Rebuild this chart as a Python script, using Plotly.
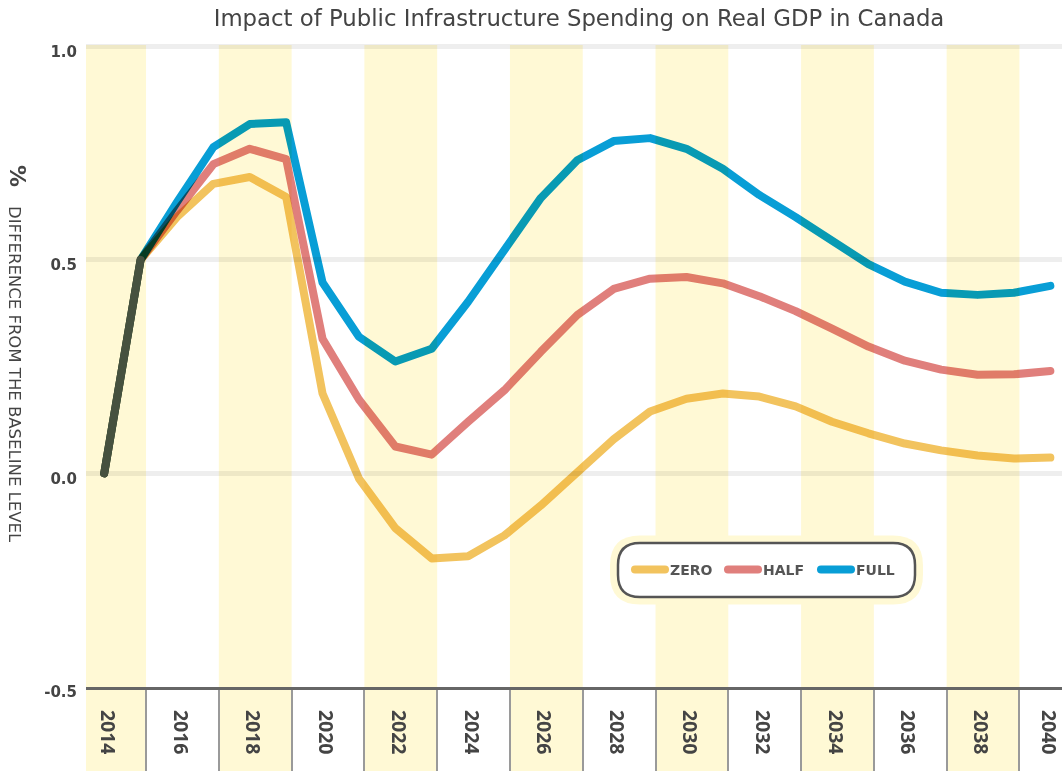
import plotly.graph_objects as go

# Real GDP impact, % difference from baseline
years = list(range(2014, 2041))
zero = [0, 0.5, 0.60, 0.678, 0.694, 0.647, 0.187, -0.012, -0.128, -0.199, -0.194,
        -0.145, -0.075, 0.005, 0.08, 0.145, 0.175, 0.187, 0.18, 0.157, 0.121,
        0.094, 0.07, 0.054, 0.042, 0.035, 0.037]
half = [0, 0.5, 0.615, 0.724, 0.76, 0.736, 0.315, 0.173, 0.063, 0.044, 0.121,
        0.195, 0.285, 0.371, 0.432, 0.456, 0.46, 0.445, 0.415, 0.38, 0.339,
        0.297, 0.264, 0.243, 0.231, 0.232, 0.24]
full = [0, 0.5, 0.635, 0.764, 0.818, 0.822, 0.447, 0.32, 0.262, 0.292, 0.402,
        0.52, 0.645, 0.733, 0.778, 0.785, 0.76, 0.713, 0.652, 0.6, 0.547,
        0.49, 0.449, 0.423, 0.418, 0.423, 0.439]

series_names = ["ZERO", "HALF", "FULL"]
series_values = [zero, half, full]
series_colors = ["#F2C35E", "#E07F7C", "#089ED6"]
SHARED_COLOR = "#46513F"

tick_years = list(range(2014, 2041, 2))
shaded_years = tick_years[::2]
y_ticks = [-0.5, 0.0, 0.5, 1.0]

WIDE = "DejaVu Sans"
OFF = 0.15  # columns sit a bit right of the data points
LABEL_OFF = 0.08
X_RANGE = [2013.5, 2040.32]
BAND = "#FFF9D5"
TEXT = "#444444"


def rounded_rect(w, h, r):
    x0, x1, y0, y1 = -w / 2, w / 2, -h / 2, h / 2
    return (f"M{x0 + r},{y0} L{x1 - r},{y0} Q{x1},{y0} {x1},{y0 + r} "
            f"L{x1},{y1 - r} Q{x1},{y1} {x1 - r},{y1} L{x0 + r},{y1} "
            f"Q{x0},{y1} {x0},{y1 - r} L{x0},{y0 + r} Q{x0},{y0} {x0 + r},{y0} Z")


fig = go.Figure()

for name, vals, col in zip(series_names, series_values, series_colors):
    fig.add_trace(go.Scatter(
        x=years, y=vals, name=name, mode="lines",
        line=dict(color=col, width=8),
        hovertemplate="%{x}: %{y:.2f}<extra>" + name + "</extra>",
    ))

# stretch where all three scenarios coincide is drawn in one dark stroke
shared = [(x, a) for x, a, b, c in zip(years, zero, half, full) if a == b == c]
fig.add_trace(go.Scatter(
    x=[p[0] for p in shared], y=[p[1] for p in shared], mode="lines",
    line=dict(color=SHARED_COLOR, width=8), showlegend=False, hoverinfo="skip",
))

shapes = []
# alternating yellow columns, running down through the tick labels
for yr in shaded_years:
    x0 = max(yr - 1 + OFF, X_RANGE[0])
    x1 = min(yr + 1 + OFF, X_RANGE[1])
    shapes.append(dict(type="rect", xref="x", yref="paper", x0=x0, x1=x1,
                       y0=-0.131, y1=1, fillcolor=BAND, line_width=0, layer="below"))

# legend frame: yellow halo + rounded white box
lx, ly = (766.5 - 86) / 976, (687 - 570) / 642
shapes.append(dict(type="path", xref="paper", yref="paper", xsizemode="pixel", ysizemode="pixel",
                   xanchor=lx, yanchor=ly, path=rounded_rect(313, 69, 30),
                   fillcolor=BAND, line_width=0, layer="above"))
shapes.append(dict(type="path", xref="paper", yref="paper", xsizemode="pixel", ysizemode="pixel",
                   xanchor=lx, yanchor=ly, path=rounded_rect(297, 54, 22),
                   fillcolor="white", line=dict(color="#555555", width=2.5), layer="above"))

fig.update_layout(
    width=1062, height=771,
    margin=dict(l=86, r=0, t=45, b=84, autoexpand=False),
    paper_bgcolor="white", plot_bgcolor="white",
    font=dict(family="Open Sans", color=TEXT),
    title=dict(text="Impact of Public Infrastructure Spending on Real GDP in Canada",
               x=(579 - 86) / 976, xref="paper", xanchor="center",
               y=1 - 18 / 771, yanchor="middle",
               font=dict(family=WIDE, size=22.8, color=TEXT)),
    shapes=shapes,
    showlegend=True,
    legend=dict(orientation="h", x=lx + 3 / 976, y=ly, xanchor="center", yanchor="middle",
                bgcolor="rgba(0,0,0,0)",
                font=dict(family=WIDE, size=14, color="#555555", weight="bold"),
                itemwidth=30, entrywidthmode="pixels", entrywidth=48),
    annotations=[
        dict(text="<b>%</b>", xref="paper", yref="paper", x=(17 - 86) / 976, y=(687 - 176) / 642,
             xanchor="center", yanchor="middle", textangle=90, showarrow=False,
             font=dict(family=WIDE, size=22, color=TEXT)),
        dict(text="DIFFERENCE FROM THE BASELINE LEVEL", xref="paper", yref="paper",
             x=(15 - 86) / 976, y=(687 - 374) / 642, xanchor="center", yanchor="middle",
             textangle=90, showarrow=False, font=dict(family=WIDE, size=16.5, color=TEXT)),
    ],
)

# keep the last year label inside the page edge
label_pos = [min(y + LABEL_OFF, X_RANGE[1] - 0.38) for y in tick_years]

fig.update_xaxes(
    range=X_RANGE, tickmode="array", automargin=False,
    tickvals=label_pos, ticktext=[str(y) for y in tick_years],
    tickangle=90, ticks="", ticklabelstandoff=16, ticklabeloverflow="allow",
    tickfont=dict(family="Open Sans", size=19.5, color=TEXT, weight="bold"),
    showgrid=False, zeroline=False,
    showline=True, linecolor="#666666", linewidth=3,
    minor=dict(tickmode="array", tickvals=[y + 1 + OFF for y in tick_years],
               ticks="outside", ticklen=84, tickwidth=2, tickcolor="#9A9A9A", showgrid=False),
)
fig.update_yaxes(
    range=[-0.5, 1.003], tickmode="array", tickvals=y_ticks, automargin=False,
    ticktext=[f"{v:.1f}" for v in y_ticks],
    tickfont=dict(family=WIDE, size=15, color=TEXT, weight="bold"),
    ticklabelstandoff=8, ticklabelshift=5,
    showgrid=True, gridcolor="rgba(0,0,0,0.065)", gridwidth=5,
    zeroline=False, showline=False,
)

# scenario lines blend like ink on the shaded columns, with rounded ends.
# the plot clip-path would isolate the blend from the columns, so drop it.
post = ("document.body.style.margin='0';"
        "document.querySelectorAll('.overplot g, g.plot').forEach(function(g){"
        "g.removeAttribute('clip-path');});"
        "document.querySelectorAll('.scatterlayer .trace').forEach(function(t,i){"
        "t.querySelectorAll('.js-line').forEach(function(p){"
        "if(i<3){p.style.mixBlendMode='multiply';}"
        "p.style.strokeLinecap='round';p.style.strokeLinejoin='round';});});"
        "document.querySelectorAll('.legend .js-line').forEach(function(p){"
        "p.style.strokeLinecap='round';});")

fig.write_html("out.html", post_script=post, config={"displayModeBar": False})
